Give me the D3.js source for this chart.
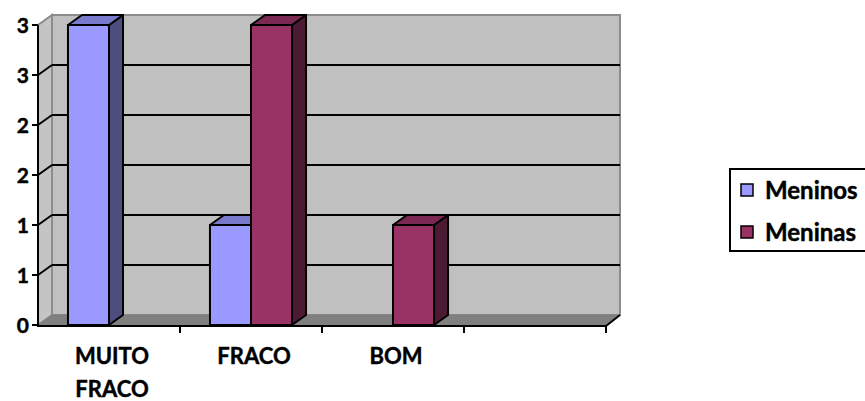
<!DOCTYPE html>
<html>
<head>
<meta charset="utf-8">
<script src="https://cdn.jsdelivr.net/npm/d3@7"></script>
<style>
  html, body { margin: 0; padding: 0; background: #ffffff; }
  svg { display: block; }
  text { font-family: Lato, "Open Sans", sans-serif; font-weight: 700; fill: #000; stroke: #000; stroke-width: 0.45px; }
</style>
</head>
<body>
<svg id="chart" width="865" height="401"></svg>
<script>
// Data
const categories = ["MUITO FRACO", "FRACO", "BOM", ""];
const categoryLines = [["MUITO", "FRACO"], ["FRACO"], ["BOM"], [""]];
const seriesNames = ["Meninos", "Meninas"];
const meninos = [3, 1, 0, null];
const meninas = [0, 3, 1, null];
const yTickValues = [0, 0.5, 1, 1.5, 2, 2.5, 3];
const yTickLabels = ["0", "1", "1", "2", "2", "3", "3"];

// Colours per series: front, top, side
const palette = {
  Meninos: { front: "#9999ff", top: "#7a7acc", side: "#4d4d80" },
  Meninas: { front: "#993366", top: "#7a2952", side: "#4d1a33" }
};

const svg = d3.select("#chart");

// Frame of the 3-D plot: front plane plus a depth offset
const plotLeft = 38, plotRight = 606, plotBottom = 325, plotTop = 25;
const dx = 14, dy = -10;

const x = d3.scaleBand().domain(categories).range([plotLeft, plotRight]).padding(0);
const groupInset = x.bandwidth() * 0.211;
const xs = d3.scaleBand().domain(seriesNames)
  .range([0, x.bandwidth() - 2 * groupInset]).padding(0);
const y = d3.scaleLinear().domain([0, 3]).range([plotBottom, plotTop]);

const pts = a => a.map(p => p.join(",")).join(" ");

// Back wall
svg.append("rect")
  .attr("x", plotLeft + dx).attr("y", y(3) + dy)
  .attr("width", plotRight - plotLeft).attr("height", y(0) - y(3))
  .attr("fill", "#c0c0c0").attr("stroke", "#8c8c8c").attr("stroke-width", 2);

// Side wall
svg.append("polygon")
  .attr("points", pts([[plotLeft, y(3)], [plotLeft + dx, y(3) + dy], [plotLeft + dx, y(0) + dy], [plotLeft, y(0)]]))
  .attr("fill", "#c4c4c4").attr("stroke", "#8c8c8c").attr("stroke-width", 2);

// Floor
svg.append("polygon")
  .attr("points", pts([[plotLeft, y(0)], [plotLeft + dx, y(0) + dy], [plotRight + dx, y(0) + dy], [plotRight, y(0)]]))
  .attr("fill", "#808080").attr("stroke", "#808080").attr("stroke-width", 1);

// Gridlines on back wall and side wall
const gridVals = yTickValues.filter(v => v > 0 && v < 3);
svg.append("g").selectAll("line").data(gridVals).join("line")
  .attr("x1", plotLeft + dx).attr("x2", plotRight + dx)
  .attr("y1", d => y(d) + dy).attr("y2", d => y(d) + dy)
  .attr("stroke", "#000").attr("stroke-width", 2);
svg.append("g").selectAll("line").data(gridVals).join("line")
  .attr("x1", plotLeft).attr("x2", plotLeft + dx)
  .attr("y1", d => y(d)).attr("y2", d => y(d) + dy)
  .attr("stroke", "#000").attr("stroke-width", 2);

// Bars
const rows = [];
categories.forEach((c, i) => {
  [["Meninos", meninos[i]], ["Meninas", meninas[i]]].forEach(([s, v]) => {
    if (v != null && v > 0) rows.push({ cat: c, series: s, value: v });
  });
});

const bars = svg.append("g").selectAll("g").data(rows).join("g");
bars.each(function (d) {
  const g = d3.select(this);
  const x0 = x(d.cat) + groupInset + xs(d.series);
  const x1 = x0 + xs.bandwidth();
  const yt = y(d.value), yb = y(0);
  const col = palette[d.series];
  g.append("polygon")
    .attr("points", pts([[x1, yt], [x1 + dx, yt + dy], [x1 + dx, yb + dy], [x1, yb]]))
    .attr("fill", col.side).attr("stroke", "#000").attr("stroke-width", 2).attr("stroke-linejoin", "round");
  g.append("polygon")
    .attr("points", pts([[x0, yt], [x0 + dx, yt + dy], [x1 + dx, yt + dy], [x1, yt]]))
    .attr("fill", col.top).attr("stroke", "#000").attr("stroke-width", 2).attr("stroke-linejoin", "round");
  g.append("rect")
    .attr("x", x0).attr("y", yt).attr("width", x1 - x0).attr("height", yb - yt)
    .attr("fill", col.front).attr("stroke", "#000").attr("stroke-width", 2);
});

// Value axis
svg.append("line")
  .attr("x1", plotLeft).attr("x2", plotLeft).attr("y1", y(3)).attr("y2", y(0) + 1)
  .attr("stroke", "#000").attr("stroke-width", 2);
const yAxis = svg.append("g");
yAxis.selectAll("line").data(yTickValues).join("line")
  .attr("x1", plotLeft - 6).attr("x2", plotLeft).attr("y1", d => y(d)).attr("y2", d => y(d))
  .attr("stroke", "#000").attr("stroke-width", 2);
yAxis.selectAll("text").data(yTickValues).join("text")
  .attr("x", plotLeft - 9).attr("y", d => y(d)).attr("dy", "0.36em")
  .attr("text-anchor", "end").attr("font-size", 21)
  .text((d, i) => yTickLabels[i]);

// Category axis
svg.append("line")
  .attr("x1", plotLeft - 1).attr("x2", plotRight).attr("y1", y(0) + 1).attr("y2", y(0) + 1)
  .attr("stroke", "#000").attr("stroke-width", 2);
svg.append("line")
  .attr("x1", plotRight).attr("x2", plotRight + dx).attr("y1", y(0) + 1).attr("y2", y(0) + dy)
  .attr("stroke", "#000").attr("stroke-width", 2);
const bounds = categories.map(c => x(c)).slice(1).concat([plotRight]);
svg.append("g").selectAll("line").data(bounds).join("line")
  .attr("x1", d => d).attr("x2", d => d).attr("y1", y(0) + 1).attr("y2", y(0) + 8)
  .attr("stroke", "#000").attr("stroke-width", 2);
svg.append("g").selectAll("text").data(categories).join("text")
  .attr("x", d => x(d) + x.bandwidth() / 2 + 3)
  .attr("y", 364)
  .attr("text-anchor", "middle").attr("font-size", 22)
  .each(function (d, i) {
    d3.select(this).selectAll("tspan").data(categoryLines[i]).join("tspan")
      .attr("x", x(d) + x.bandwidth() / 2 + 3)
      .attr("dy", (t, j) => j === 0 ? 0 : 33)
      .text(t => t);
  });

// Legend
const legend = svg.append("g");
legend.append("rect")
  .attr("x", 730).attr("y", 169).attr("width", 150).attr("height", 82)
  .attr("fill", "#fff").attr("stroke", "#000").attr("stroke-width", 2);
const items = legend.selectAll("g").data(seriesNames).join("g")
  .attr("transform", (d, i) => `translate(741, ${184 + i * 42})`);
items.append("rect")
  .attr("width", 12).attr("height", 12)
  .attr("fill", d => palette[d].front).attr("stroke", "#000").attr("stroke-width", 1.5);
items.append("text")
  .attr("x", 24).attr("y", 6).attr("dy", "0.36em")
  .attr("font-size", 24).text(d => d);
</script>
</body>
</html>
